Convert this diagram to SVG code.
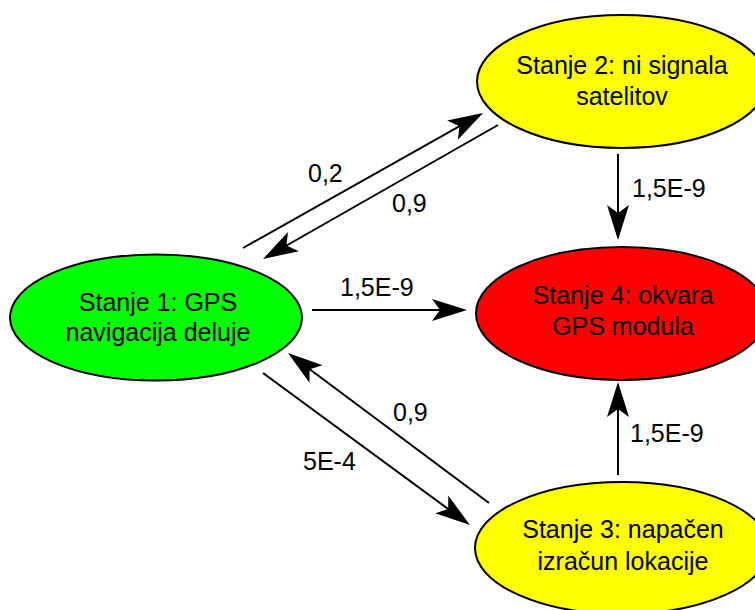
<svg xmlns="http://www.w3.org/2000/svg" width="755" height="610" viewBox="0 0 755 610">
<style>
.node{stroke:#000;stroke-width:2}
.t{font-family:"Liberation Sans",Arial,sans-serif;font-size:25px;fill:#000;text-anchor:middle}
.l{font-family:"Liberation Sans",Arial,sans-serif;font-size:25px;fill:#000}
.c{stroke:#000;stroke-width:2;fill:none;marker-end:url(#arr)}
</style>
<defs>
<marker id="arr" markerUnits="userSpaceOnUse" markerWidth="40" markerHeight="24" viewBox="0 -12 40 24" refX="25" refY="0" orient="auto">
<path d="M35,0 L0,-11 L8,0 L0,11 Z" fill="#000"/>
</marker>
</defs>
<rect width="755" height="610" fill="#fff"/>
<g id="connectors">
<path class="c" d="M243,248 L474.3,117.9"/>
<path class="c" d="M498,125 L271.7,254"/>
<path class="c" d="M312,310 L457,310"/>
<path class="c" d="M618,154 L618,230"/>
<path class="c" d="M618,475 L618,392"/>
<path class="c" d="M263,373 L461.9,519.1"/>
<path class="c" d="M489,503 L296,359"/>
<text class="l" x="308" y="182">0,2</text>
<text class="l" x="392" y="212">0,9</text>
<text class="l" x="340" y="296">1,5E-9</text>
<text class="l" x="632" y="197">1,5E-9</text>
<text class="l" x="630" y="442">1,5E-9</text>
<text class="l" x="303" y="470">5E-4</text>
<text class="l" x="393" y="421">0,9</text>
</g>
<g id="state1">
<ellipse class="node" cx="156" cy="317.5" rx="146" ry="63" fill="#00ff00"/>
<text class="t" x="158" y="311">Stanje 1: GPS</text>
<text class="t" x="158" y="341">navigacija deluje</text>
</g>
<g id="state2">
<ellipse class="node" cx="622" cy="81.5" rx="145" ry="66.5" fill="#ffff00"/>
<text class="t" x="622" y="74">Stanje 2: ni signala</text>
<text class="t" x="622" y="105">satelitov</text>
</g>
<g id="state4">
<ellipse class="node" cx="622" cy="313.5" rx="146" ry="66.5" fill="#ff0000"/>
<text class="t" x="623" y="304">Stanje 4: okvara</text>
<text class="t" x="623" y="335">GPS modula</text>
</g>
<g id="state3">
<ellipse class="node" cx="622" cy="548" rx="147" ry="66" fill="#ffff00"/>
<text class="t" x="623" y="538">Stanje 3: napačen</text>
<text class="t" x="623" y="570">izračun lokacije</text>
</g>
</svg>
